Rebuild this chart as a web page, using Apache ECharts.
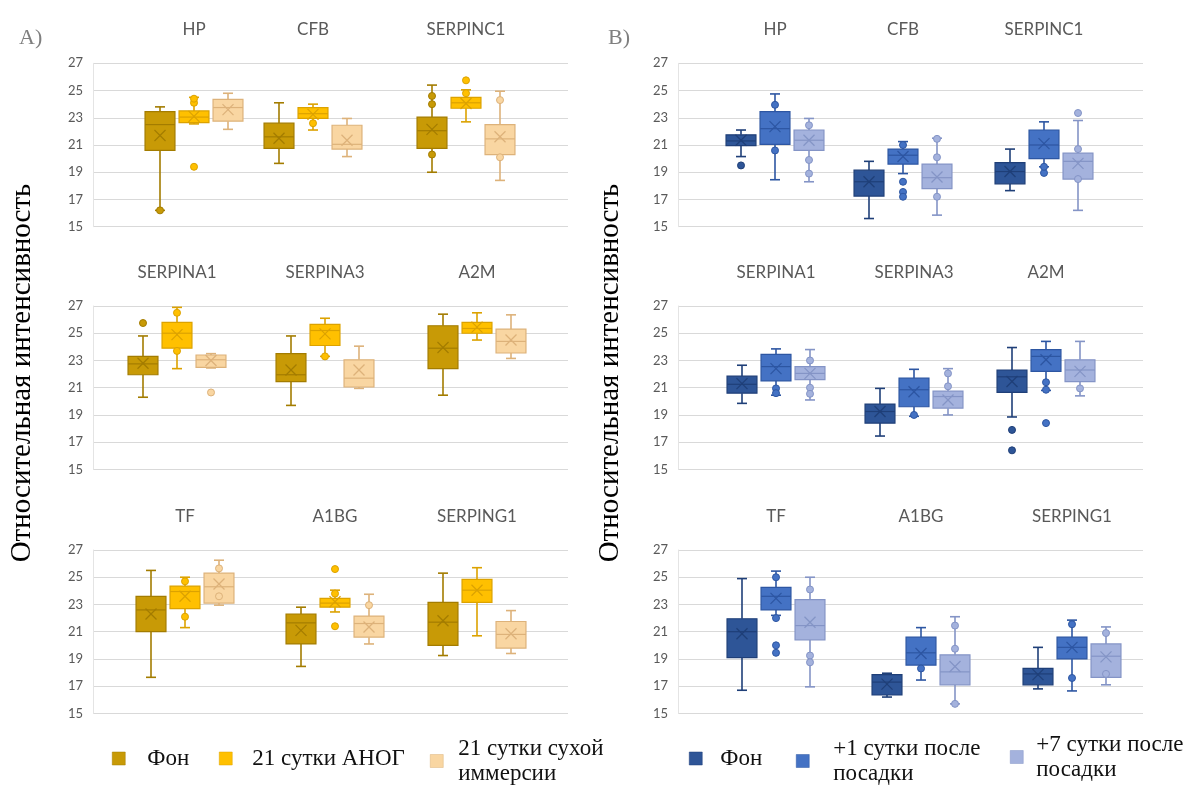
<!DOCTYPE html>
<html>
<head>
<meta charset="utf-8">
<script src="https://cdn.jsdelivr.net/npm/echarts@6/dist/echarts.min.js"></script>
<style>html,body{margin:0;padding:0;background:#fff}#c{width:1189px;height:785px}</style>
</head>
<body>
<div id="c"></div>
<script>
// ---------- DATA ----------
const GENES = ['HP','CFB','SERPINC1','SERPINA1','SERPINA3','A2M','TF','A1BG','SERPING1'];
const Y_TICKS = [15,17,19,21,23,25,27];
const GROUPS_A = ['Фон','21 сутки АНОГ','21 сутки сухой\nиммерсии'];
const GROUPS_B = ['Фон','+1 сутки после\nпосадки','+7 сутки после\nпосадки'];

// each row: [min, Q1, median, Q3, max, mean], one row per gene (GENES order)
const A_FON = [
  [16.2,20.6,22.5,23.45,23.8,21.7],[19.65,20.75,21.6,22.6,24.1,21.5],[19.0,20.75,22.05,23.05,25.4,22.15],
  [20.3,21.95,22.75,23.3,24.8,22.8],[19.7,21.45,21.95,23.5,24.8,22.3],[20.45,22.4,23.9,25.55,26.4,23.95],
  [17.65,21.0,22.6,23.6,25.5,22.3],[18.45,20.1,21.65,22.3,22.8,21.1],[19.25,20.0,21.7,23.15,25.3,21.8]
];
const A_ANOG = [
  [22.55,22.65,23.05,23.5,24.5,23.1],[22.1,22.95,23.3,23.75,24.0,23.25],[22.7,23.7,24.1,24.5,25.05,24.05],
  [22.4,23.9,25.0,25.8,26.9,24.9],[23.3,24.1,25.2,25.65,26.1,24.95],[24.5,25.0,25.35,25.8,26.5,25.45],
  [21.3,22.7,23.95,24.35,25.0,23.6],[22.45,22.8,23.1,23.45,24.05,23.2],[20.7,23.15,24.05,24.85,25.7,24.05]
];
const A_DRY = [
  [22.15,22.75,23.75,24.35,24.8,23.6],[20.15,20.7,21.05,22.45,22.95,21.35],[18.4,20.3,21.45,22.5,24.95,21.6],
  [22.45,22.5,23.05,23.4,23.5,23.0],[20.95,21.05,21.7,23.05,24.05,22.3],[23.15,23.55,24.4,25.3,26.35,24.5],
  [22.95,23.1,24.3,25.3,26.25,24.5],[20.1,20.6,21.6,22.15,23.75,21.35],[19.4,19.8,20.8,21.75,22.55,20.85]
];
const B_FON = [
  [20.15,20.95,21.3,21.75,22.1,21.35],[15.6,17.25,18.3,19.15,19.8,18.3],[17.65,18.15,19.05,19.7,20.7,19.05],
  [19.85,20.6,21.25,21.85,22.65,21.3],[17.45,18.4,19.25,19.8,20.95,19.25],[18.85,20.65,21.8,22.3,23.95,21.45],
  [16.7,19.1,21.0,21.95,24.9,20.85],[16.2,16.35,17.3,17.85,17.95,17.15],[16.8,17.1,17.9,18.3,19.85,17.85]
];
const B_DAY1 = [
  [18.45,21.05,22.2,23.45,24.75,22.35],[18.9,19.6,20.25,20.7,21.25,20.15],[19.4,20.0,21.0,22.1,22.7,21.1],
  [20.45,21.5,22.55,23.45,23.85,22.4],[18.9,19.6,20.85,21.7,22.35,20.7],[20.8,22.2,23.3,23.8,24.4,23.05],
  [22.2,22.6,23.6,24.25,25.45,23.45],[17.45,18.55,19.45,20.6,21.3,19.4],[16.65,19.0,19.85,20.6,21.85,19.85]
];
const B_DAY7 = [
  [18.3,20.6,21.35,22.1,22.95,21.35],[15.85,17.8,18.6,19.6,21.5,18.65],[16.2,18.5,19.8,20.4,22.8,19.65],
  [20.1,21.6,22.05,22.55,23.8,22.05],[19.0,19.5,20.35,20.75,22.4,20.1],[20.4,21.45,22.3,23.05,24.4,22.2],
  [16.95,20.4,21.45,23.35,25.0,21.7],[15.7,17.1,18.05,19.3,22.1,18.45],[17.1,17.65,19.2,20.1,21.35,19.15]
];

// individual points (outliers and visible inner points), per gene
const A_FON_PTS  = [[16.2],[],[24.6,24.0,20.3],[25.75],[],[],[],[],[]];
const A_ANOG_PTS = [[19.4,24.1,24.4],[22.6],[25.75,24.8],[26.5,23.7],[23.3],[],[22.1,24.7],[25.6,21.4,23.8],[]];
const A_DRY_PTS  = [[],[],[24.3,20.1],[20.65],[],[],[25.65,23.6],[22.95],[]];
const B_FON_PTS  = [[19.5],[],[],[],[],[17.9,16.4],[],[],[]];
const B_DAY1_PTS = [[23.95,20.6],[18.3,17.55,17.2,21.0],[18.95,19.4],[20.95,20.6],[19.0],[21.4,20.85,18.4],[25.0,22.0,20.0,19.45],[18.3],[21.55,17.6]];
const B_DAY7_PTS = [[22.45,19.9,18.9],[21.45,20.1,17.2],[23.35,20.7,18.5],[23.0,21.0,20.55],[22.05,21.1],[20.95],[24.1,19.25,18.75],[21.45,19.75,15.7],[20.9,17.9]];

// ---------- LAYOUT / STYLE ----------
const ROW_TOP = [63.3, 306, 550];
const ROW_H = 163.4;
const PANELS = [
  { groups: GROUPS_A, boxes: [A_FON, A_ANOG, A_DRY], pts: [A_FON_PTS, A_ANOG_PTS, A_DRY_PTS],
    colors: [{fill:'#C89A06',stroke:'#A37C00'},{fill:'#FFC000',stroke:'#DCA200'},{fill:'#F9D6A2',stroke:'#DDB27A'}],
    plotLeft: 93, plotRight: 568,
    centers: [[194,313,466],[177,325,477],[185,335,477]],
    legend: [{left:107,top:741,pad:17},{left:214,top:741,pad:15},{left:425,top:731,pad:10}],
    yTitleX: 22, label: 'A)', labelX: 14 },
  { groups: GROUPS_B, boxes: [B_FON, B_DAY1, B_DAY7], pts: [B_FON_PTS, B_DAY1_PTS, B_DAY7_PTS],
    colors: [{fill:'#2E5597',stroke:'#1F3F78'},{fill:'#4472C4',stroke:'#2D56A2'},{fill:'#A4B2DD',stroke:'#8494C6'}],
    plotLeft: 678, plotRight: 1143,
    centers: [[775,903,1044],[776,914,1046],[776,921,1072]],
    legend: [{left:684,top:741,pad:13},{left:791,top:731,pad:19},{left:1005,top:727,pad:8}],
    yTitleX: 610, label: 'B)', labelX: 603 }
];
const GREY = '#595959';
const SANS = 'Lato, "Open Sans", sans-serif';
const SERIF = '"Liberation Serif", "DejaVu Serif", serif';

function makeRender(col) {
  return function (params, api) {
    const k = api.value(0);
    const bw = api.size([1, 0])[0] * 0.88;
    const hw = bw / 2, cap = 5, mx = 5.5;
    const cx = api.coord([k, api.value(1)])[0];
    const yv = i => api.coord([k, api.value(i)])[1];
    const yMin = yv(1), yQ1 = yv(2), yMed = yv(3), yQ3 = yv(4), yMax = yv(5), yMean = yv(6);
    const ls = { stroke: col.stroke, lineWidth: 1.6 };
    return { type: 'group', children: [
      { type: 'line', shape: { x1: cx, y1: yMax, x2: cx, y2: yQ3 }, style: ls },
      { type: 'line', shape: { x1: cx, y1: yQ1, x2: cx, y2: yMin }, style: ls },
      { type: 'line', shape: { x1: cx - cap, y1: yMax, x2: cx + cap, y2: yMax }, style: ls },
      { type: 'line', shape: { x1: cx - cap, y1: yMin, x2: cx + cap, y2: yMin }, style: ls },
      { type: 'rect', shape: { x: cx - hw, y: yQ3, width: bw, height: yQ1 - yQ3 },
        style: { fill: col.fill, stroke: col.stroke, lineWidth: 1.2 } },
      { type: 'line', shape: { x1: cx - hw, y1: yMed, x2: cx + hw, y2: yMed }, style: { stroke: col.stroke, lineWidth: 1.2 } },
      { type: 'line', shape: { x1: cx - mx, y1: yMean - mx, x2: cx + mx, y2: yMean + mx }, style: { stroke: col.stroke, lineWidth: 1.3 } },
      { type: 'line', shape: { x1: cx - mx, y1: yMean + mx, x2: cx + mx, y2: yMean - mx }, style: { stroke: col.stroke, lineWidth: 1.3 } }
    ] };
  };
}

const grid = [], xAxis = [], yAxis = [], series = [], legend = [], title = [], graphic = [];
const yMin = Y_TICKS[0], yMax = Y_TICKS[Y_TICKS.length - 1], yStep = Y_TICKS[1] - Y_TICKS[0];

PANELS.forEach(function (P) {
  // background grids with gridlines and tick labels
  for (let r = 0; r < 3; r++) {
    const gi = grid.length;
    grid.push({ left: P.plotLeft, top: ROW_TOP[r], width: P.plotRight - P.plotLeft, height: ROW_H });
    xAxis.push({ gridIndex: gi, type: 'category', data: [], show: false });
    yAxis.push({ gridIndex: gi, type: 'value', min: yMin, max: yMax, interval: yStep,
      axisLabel: { color: GREY, fontSize: 13, fontFamily: SANS, margin: 10 },
      axisTick: { show: false },
      axisLine: { show: true, lineStyle: { color: '#e4e4e4' } },
      splitLine: { lineStyle: { color: '#d9d9d9', width: 1 } } });
  }
  // gene grids
  GENES.forEach(function (gene, g) {
    const r = Math.floor(g / 3), c = P.centers[r][g % 3];
    const gi = grid.length;
    grid.push({ left: c - 51, top: ROW_TOP[r], width: 102, height: ROW_H });
    xAxis.push({ gridIndex: gi, type: 'category', data: P.groups, position: 'top',
      name: gene, nameLocation: 'middle', nameGap: 25,
      nameTextStyle: { color: GREY, fontSize: 17, fontFamily: SANS },
      axisLine: { show: false }, axisTick: { show: false }, axisLabel: { show: false }, splitLine: { show: false } });
    yAxis.push({ gridIndex: gi, type: 'value', min: yMin, max: yMax, show: false });
    const ai = xAxis.length - 1;
    P.groups.forEach(function (grp, k) {
      const col = P.colors[k];
      series.push({ type: 'custom', name: grp, xAxisIndex: ai, yAxisIndex: ai,
        data: [[k].concat(P.boxes[k][g])], encode: { x: 0, y: [1, 2, 3, 4, 5, 6] },
        itemStyle: { color: col.fill }, renderItem: makeRender(col), z: 3, silent: true });
      series.push({ type: 'scatter', name: grp, xAxisIndex: ai, yAxisIndex: ai,
        data: P.pts[k][g].map(v => [k, v]), symbolSize: 7,
        itemStyle: { color: col.fill, borderColor: col.stroke, borderWidth: 1, opacity: 1 }, z: 4, silent: true });
    });
  });
  // legends
  P.groups.forEach(function (grp, k) {
    const L = P.legend[k];
    legend.push({ left: L.left, top: L.top, icon: 'rect', itemWidth: 13, itemHeight: 13, selectedMode: false,
      data: [{ name: grp, itemStyle: { color: P.colors[k].fill, borderColor: P.colors[k].stroke, borderWidth: 0.5 } }],
      textStyle: { fontFamily: SERIF, fontSize: 23, color: '#111', lineHeight: 25, padding: [0, 0, 0, L.pad] } });
  });
  title.push({ text: P.label, left: P.labelX, top: 22,
    textStyle: { fontFamily: SERIF, fontSize: 22, fontWeight: 'normal', color: '#7f7f7f' } });
  graphic.push({ type: 'text', x: P.yTitleX, y: 373, rotation: Math.PI / 2,
    style: { text: 'Относительная интенсивность', fontFamily: SERIF, fontSize: 29, fill: '#000',
      align: 'center', verticalAlign: 'middle' } });
});

const chart = echarts.init(document.getElementById('c'), null, { renderer: 'canvas' });
chart.setOption({ animation: false, backgroundColor: '#fff', title, grid, xAxis, yAxis, legend, graphic, series });
</script>
</body>
</html>
